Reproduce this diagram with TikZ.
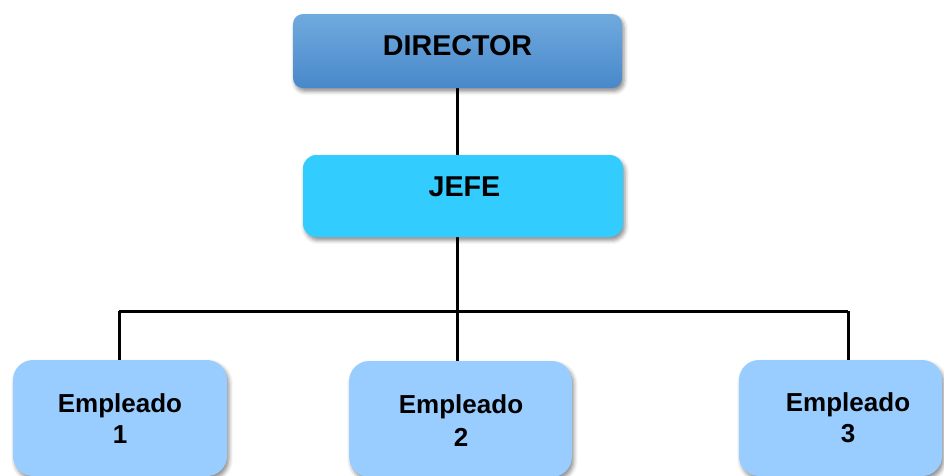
\documentclass[tikz,border=0pt]{standalone}
\usepackage{fontspec}
\setmainfont{Liberation Sans}
\usetikzlibrary{shadows.blur, backgrounds}

\definecolor{dirtop}{RGB}{112,170,222}
\definecolor{dirbot}{RGB}{72,136,202}
\definecolor{jefefill}{RGB}{51,204,255}
\definecolor{empfill}{RGB}{153,204,255}

\tikzset{
  softshadow/.style={blur shadow={shadow xshift=1.5pt, shadow yshift=-2.5pt,
      shadow blur radius=3pt, shadow opacity=45}},
  dirbox/.style={rectangle, rounded corners=7.5pt, minimum width=246.75pt,
      minimum height=55.5pt, top color=dirtop, bottom color=dirbot, draw=none, softshadow},
  jefebox/.style={rectangle, rounded corners=10pt, minimum width=240pt,
      minimum height=61.5pt, fill=jefefill, draw=none, softshadow},
  empbox/.style={rectangle, rounded corners=15pt, minimum height=87pt,
      fill=empfill, draw=none, softshadow},
  bigtext/.style={font=\bfseries\fontsize{21.5}{25}\selectfont, anchor=base, inner sep=0pt},
  emptext/.style={font=\bfseries\fontsize{19.5}{24}\selectfont, anchor=base, inner sep=0pt},
  conn/.style={line width=2.25pt, line join=miter, draw=black}
}

\begin{document}
\begin{tikzpicture}[x=0.75pt, y=-0.75pt]
  \useasboundingbox (0,0) rectangle (944,475);
  \clip (0,0) rectangle (944,475);

  % boxes
  \node[dirbox] (dir) at (457.5,51) {};
  \node[jefebox] (jefe) at (463,196) {};
  \node[empbox, minimum width=160.5pt] (e1) at (120,418) {};
  \node[empbox, minimum width=167pt] (e2) at (460.5,419) {};
  \node[empbox, minimum width=152.25pt] (e3) at (840.5,418) {};

  % junction points of the connector tree
  \coordinate (bus) at (457,311);
  \coordinate (b1) at (119,311);
  \coordinate (b3) at (848,311);

  % connectors, kept behind the boxes
  \begin{scope}[on background layer]
    \draw[conn] (dir.south -| bus) -- (jefe.north -| bus);
    \draw[conn] (jefe.south -| bus) -- (bus);
    \draw[conn] (b1) -- (b3);
    \draw[conn] (b1) -- (e1.north -| b1);
    \draw[conn] (bus) -- (e2.north -| bus);
    \draw[conn] (b3) -- (e3.north -| b3);
  \end{scope}

  % texts
  \node[bigtext] (tdir) at (457.5,55) {DIRECTOR};
  \node[bigtext] (tjefe) at (464.5,196) {JEFE};
  \node[emptext] (t1a) at (120,412) {Empleado};
  \node[emptext] (t1b) at (120,443) {1};
  \node[emptext] (t2a) at (461,413) {Empleado};
  \node[emptext] (t2b) at (461,446) {2};
  \node[emptext] (t3a) at (848,411) {Empleado};
  \node[emptext] (t3b) at (848,442) {3};
\end{tikzpicture}
\end{document}
